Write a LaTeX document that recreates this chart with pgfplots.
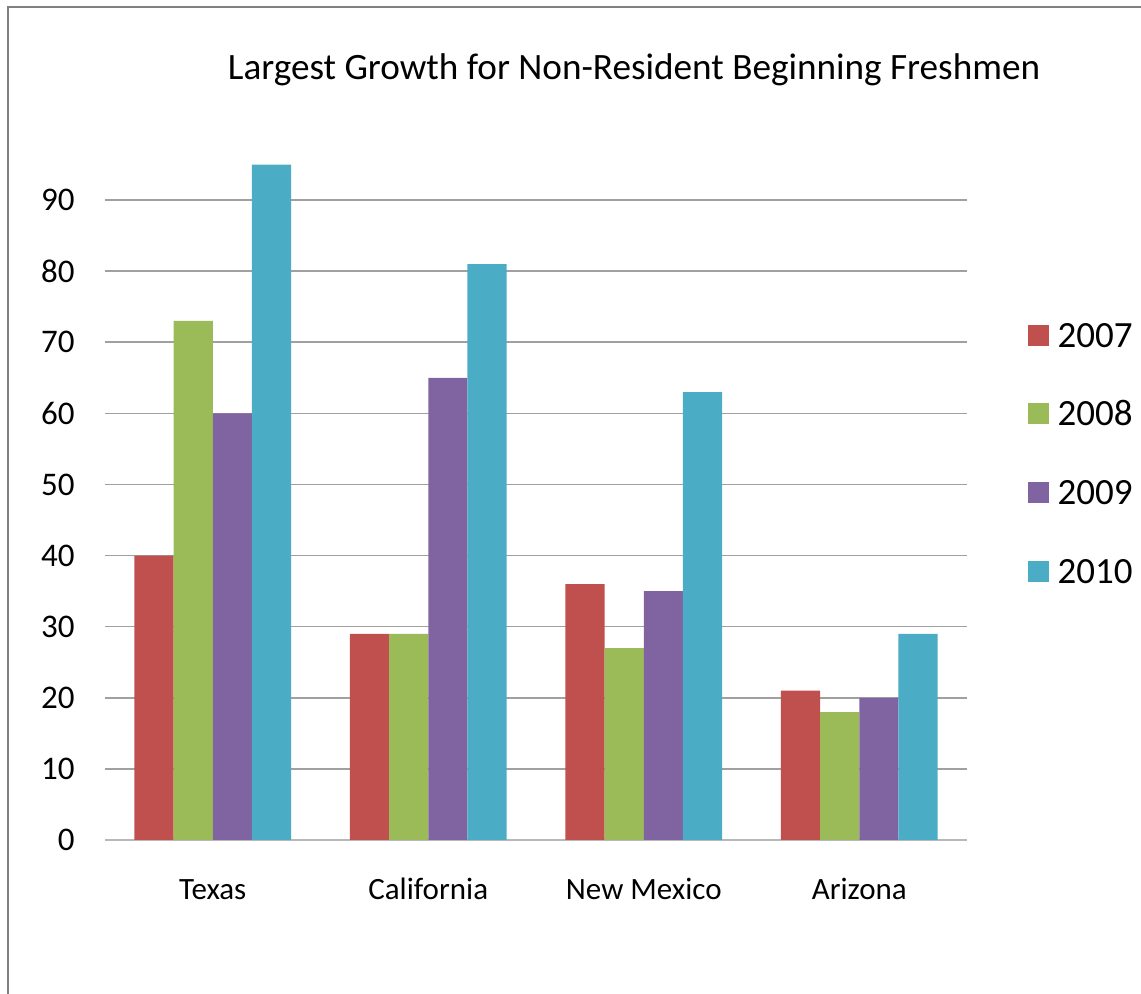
\documentclass[border=0pt]{standalone}
\usepackage{pgfplots}
\pgfplotsset{compat=1.18}
\usepackage{fontspec}
\setmainfont{Carlito}
\definecolor{c07}{HTML}{C0504D}
\definecolor{c08}{HTML}{9BBB59}
\definecolor{c09}{HTML}{8064A2}
\definecolor{c10}{HTML}{4BACC6}
\definecolor{gridc}{HTML}{A0A0A0}
\definecolor{axc}{HTML}{B8B8B8}
\definecolor{framec}{HTML}{808080}
\begin{document}
\begin{tikzpicture}
\useasboundingbox (0,0) rectangle (570.5pt,497pt);
\draw[framec, line width=1.2pt] (4pt,0pt) -- (4pt,493.5pt) -- (570.5pt,493.5pt);
\begin{axis}[
  at={(52.5pt,77pt)}, anchor=south west,
  scale only axis, width=431pt, height=355.5pt,
  ybar=0pt, bar width=19.6pt,
  xmin=-0.5, xmax=3.5, ymin=0, ymax=100,
  xtick={0,1,2,3},
  xticklabels={Texas,California,New Mexico,Arizona},
  ytick={0,10,...,90},
  ymajorgrids, grid style={gridc, line width=0.8pt},
  major tick length=0pt,
  axis x line*=bottom, axis y line*=left,
  x axis line style={axc, line width=1.2pt, -},
  y axis line style={draw=none},
  /pgf/number format/assume math mode=true,
  xticklabel style={font=\fontsize{15.5}{18}\selectfont, anchor=base, inner sep=0pt, yshift=-30pt},
  yticklabel style={font=\fontsize{16.5}{19}\selectfont, anchor=east, inner sep=0pt, xshift=-15pt},
  legend style={draw=none, fill=none, at={(1.063,0.733)}, anchor=north west,
    font=\fontsize{18.5}{22}\selectfont, row sep=27.3pt, column sep=4.5pt,
    nodes={inner sep=0pt, text height=12pt, text depth=0pt}},
  legend cell align=left,
  legend image code/.code={\fill[#1] (0pt,-5.25pt) rectangle (10.5pt,5.25pt);},
]
\addplot[fill=c07, draw=none] coordinates {(0,40) (1,29) (2,36) (3,21)};
\addplot[fill=c08, draw=none] coordinates {(0,73) (1,29) (2,27) (3,18)};
\addplot[fill=c09, draw=none] coordinates {(0,60) (1,65) (2,35) (3,20)};
\addplot[fill=c10, draw=none] coordinates {(0,95) (1,81) (2,63) (3,29)};
\legend{2007,2008,2009,2010}
\end{axis}
\node[anchor=base, font=\fontsize{18.6}{22}\selectfont, inner sep=0pt] at (317pt,457pt) {Largest Growth for Non-Resident Beginning Freshmen};
\end{tikzpicture}
\end{document}
